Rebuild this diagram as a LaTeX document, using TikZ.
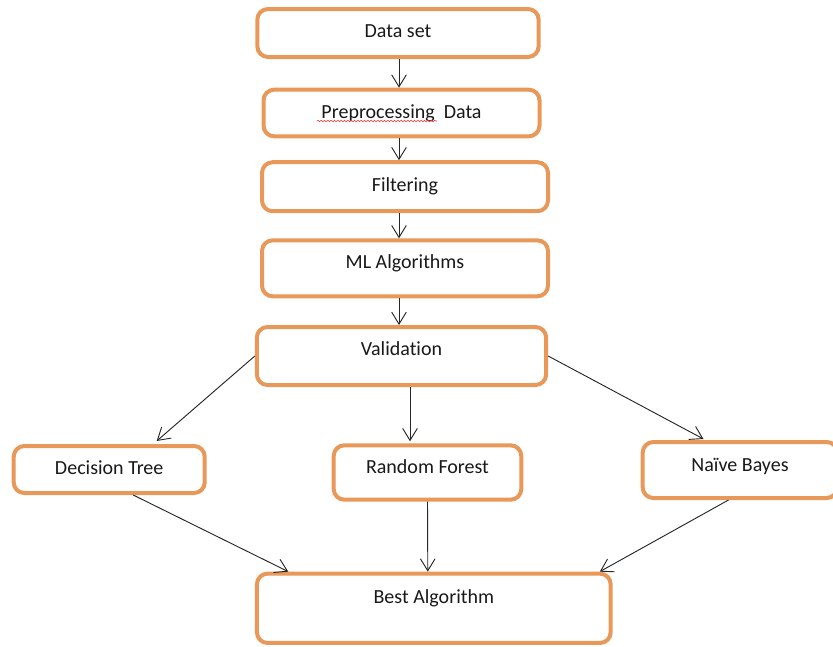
\documentclass[tikz,border=0pt]{standalone}
\usepackage{fontspec}
\setmainfont{Carlito}[Ligatures=NoCommon]
\usetikzlibrary{arrows.meta,calc,decorations.pathmorphing}
\definecolor{boxorange}{RGB}{232,152,88}
\begin{document}
\begin{tikzpicture}[x=0.75pt,y=-0.75pt,
    box/.style={draw=boxorange, line width=3pt, rounded corners=8pt, fill=white,
        font=\fontsize{15}{18}\selectfont, text=black!90, text height=11pt, inner sep=0pt},
    flow/.style={draw=black!85, line width=0.7pt, -{Straight Barb[length=9pt,width=11pt]}}]
    \useasboundingbox (0,0) rectangle (833,647);
    \node[box, minimum width=211pt, minimum height=36pt, text depth=5pt] (data) at (398,33) {Data set};
    \node[box, minimum width=207pt, minimum height=35pt, text depth=3pt] (prep) at (401.5,113) {Preprocessing\ \ Data};
    \node[box, minimum width=214.5pt, minimum height=36.75pt, text depth=3.5pt] (filter) at (405,186.7) {Filtering};
    \node[box, minimum width=214.5pt, minimum height=42pt, text depth=11pt] (ml) at (405,268.3) {ML Algorithms};
    \node[box, minimum width=217pt, minimum height=43.5pt, text depth=12.5pt] (valid) at (401.5,356) {Validation};
    \node[box, minimum width=143.25pt, minimum height=35.25pt, text depth=4.25pt] (dtree) at (109.2,469.5) {Decision Tree};
    \node[box, minimum width=140.7pt, minimum height=40.8pt, text depth=9.8pt] (rforest) at (427.5,472.5) {Random Forest};
    \node[box, minimum width=146pt, minimum height=42pt, text depth=8.5pt] (nbayes) at (740,470) {Naïve Bayes};
    \node[box, minimum width=265.3pt, minimum height=52pt, text depth=18.5pt] (best) at (433.8,608.3) {Best Algorithm};
    \draw[red!80, line width=0.4pt, decorate, decoration={snake, amplitude=0.6pt, segment length=2.5pt}]
        ($(prep)+(-84.7,8)$) -- ($(prep)+(35.3,8)$);
    \draw[flow] (data.south -| 399,0) -- (prep.north -| 399,0);
    \draw[flow] (prep.south -| 399,0) -- (filter.north -| 399,0);
    \draw[flow] (filter.south -| 399,0) -- (ml.north -| 399,0);
    \draw[flow] (ml.south -| 399,0) -- (valid.north -| 399,0);
    \draw[flow] (valid.west) -- ($(dtree.north)+(47.5,-3)$);
    \draw[flow] (valid.south -| 410,0) -- ($(rforest.north)+(-17.5,-2)$);
    \draw[flow] (valid.east) -- ($(nbayes.north)+(-36.5,-1)$);
    \draw[flow] ($(dtree.south)+(24,0)$) -- ($(best.north)+(-145.5,0)$);
    \draw[flow] (rforest.south) -- ($(best.north)+(-6,0)$);
    \draw[flow] ($(nbayes.south)+(-11.5,0)$) -- ($(best.north)+(166,0)$);
\end{tikzpicture}
\end{document}
